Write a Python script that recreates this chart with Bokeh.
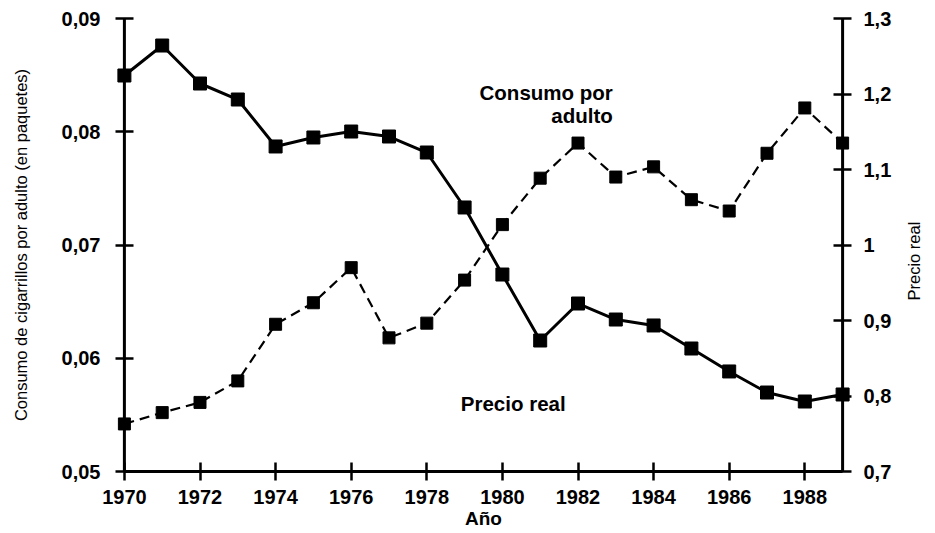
import math
from bokeh.plotting import figure
from bokeh.models import Range1d, LinearAxis, FixedTicker, Label, Span, CustomJSTickFormatter
from bokeh.embed import file_html
from bokeh.resources import INLINE

years = list(range(1970, 1990))
consumo = [0.0542, 0.0552, 0.0561, 0.0580, 0.0630, 0.0649, 0.0680, 0.0618, 0.0631, 0.0669,
           0.0718, 0.0759, 0.0790, 0.0760, 0.0769, 0.0740, 0.0730, 0.0781, 0.0821, 0.0790]
precio = [1.2245, 1.2642, 1.2139, 1.1927, 1.1305, 1.1424, 1.1503, 1.1437, 1.1225, 1.0497,
          0.9609, 0.8735, 0.9225, 0.9013, 0.8934, 0.8629, 0.8325, 0.8046, 0.7927, 0.8020]

x_ticks = [1970, 1972, 1974, 1976, 1978, 1980, 1982, 1984, 1986, 1988]
left_ticks = [0.05, 0.06, 0.07, 0.08, 0.09]
left_tick_labels = ["0,05", "0,06", "0,07", "0,08", "0,09"]
right_ticks = [0.7, 0.8, 0.9, 1.0, 1.1, 1.2, 1.3]
right_tick_labels = ["0,7", "0,8", "0,9", "1", "1,1", "1,2", "1,3"]

left_title = "Consumo de cigarrillos por adulto (en paquetes)"
right_title = "Precio real"
x_title = "Año"

FONT = "Liberation Sans"

fmt_code = """
let best = 0, bd = Infinity;
for (let i = 0; i < vals.length; i++) {
  const d = Math.abs(vals[i] - tick);
  if (d < bd) { bd = d; best = i; }
}
return labs[best];
"""

x_start, x_end = years[0], years[-1]

p = figure(width=935, height=533, output_backend="svg", toolbar_location=None,
           x_range=Range1d(x_start - 0.5, x_end + 0.5), y_range=Range1d(0.05, 0.09),
           min_border_left=105, min_border_right=70, min_border_top=18, min_border_bottom=62)
p.extra_y_ranges = {"precio": Range1d(0.7, 1.3)}
p.outline_line_color = None
p.xgrid.visible = False
p.ygrid.visible = False
p.background_fill_color = "white"

def style_axis(ax):
    ax.axis_line_width = 3
    ax.axis_line_color = "black"
    ax.major_tick_line_width = 2.5
    ax.major_tick_line_color = "black"
    ax.major_tick_in = 9
    ax.major_tick_out = 9
    ax.minor_tick_line_color = None
    ax.minor_tick_in = 0
    ax.minor_tick_out = 0
    ax.major_label_text_font = FONT
    ax.major_label_text_font_style = "bold"
    ax.major_label_text_font_size = "20px"
    ax.major_label_text_color = "black"
    ax.axis_label_text_color = "black"

# x axis
xa = p.xaxis[0]
style_axis(xa)
xa.ticker = FixedTicker(ticks=x_ticks)
xa.bounds = (x_start, x_end)
xa.major_label_standoff = 9
xa.axis_label = x_title
xa.axis_label_text_font = FONT
xa.axis_label_text_font_style = "bold"
xa.axis_label_text_font_size = "19px"
xa.axis_label_standoff = 1

# left axis (line drawn as a span through the first year, ticks shifted onto it)
ya = p.yaxis[0]
style_axis(ya)
ya.axis_line_color = None
ya.major_tick_in = 28
ya.major_tick_out = -10
ya.ticker = FixedTicker(ticks=left_ticks)
ya.formatter = CustomJSTickFormatter(args=dict(vals=left_ticks, labs=left_tick_labels), code=fmt_code)
ya.major_label_standoff = 5
ya.axis_label = left_title
ya.axis_label_text_font = FONT
ya.axis_label_text_font_style = "normal"
ya.axis_label_text_font_size = "16.5px"
ya.axis_label_standoff = 29

# right axis (ticks and labels)
ra = LinearAxis(y_range_name="precio")
style_axis(ra)
ra.axis_line_color = None
ra.major_tick_in = 28
ra.major_tick_out = -10
ra.ticker = FixedTicker(ticks=right_ticks)
ra.formatter = CustomJSTickFormatter(args=dict(vals=right_ticks, labs=right_tick_labels), code=fmt_code)
ra.major_label_standoff = 2
p.add_layout(ra, "right")

# right axis title: one rotated label (reads bottom-to-top) starting where the original starts
title_start = 0.9265
rt = LinearAxis(y_range_name="precio", ticker=FixedTicker(ticks=[title_start]))
rt.formatter = CustomJSTickFormatter(args=dict(t=right_title), code="return t")
rt.axis_line_color = None
rt.major_tick_line_color = None
rt.minor_tick_line_color = None
rt.major_tick_in = 0
rt.major_tick_out = 0
rt.minor_tick_in = 0
rt.minor_tick_out = 0
rt.major_label_orientation = math.pi / 2
rt.major_label_text_font = FONT
rt.major_label_text_font_style = "normal"
rt.major_label_text_font_size = "16.5px"
rt.major_label_text_color = "black"
rt.major_label_standoff = 20
p.add_layout(rt, "right")

p.add_layout(Span(location=x_start, dimension="height", line_color="black", line_width=3))
p.add_layout(Span(location=x_end, dimension="height", line_color="black", line_width=3))

# series
p.line(years, consumo, line_color="black", line_width=2.2, line_dash="10 6")
p.scatter(years, consumo, marker="square", size=12, fill_color="black", line_color="black")
p.line(years, precio, line_color="black", line_width=3, y_range_name="precio")
p.scatter(years, precio, marker="square", size=13, fill_color="black", line_color="black",
          y_range_name="precio")

# annotations
lab_kw = dict(text_font=FONT, text_font_style="bold", text_font_size="20.5px", text_color="black")
p.add_layout(Label(x=1982.92, y=0.08347, text="Consumo por", text_align="right",
                   text_baseline="middle", **lab_kw))
p.add_layout(Label(x=1982.92, y=0.08143, text="adulto", text_align="right",
                   text_baseline="middle", **lab_kw))
p.add_layout(Label(x=1978.9, y=0.0560, text="Precio real", text_align="left",
                   text_baseline="middle", **lab_kw))

open("out.html", "w").write(file_html(p, INLINE))
